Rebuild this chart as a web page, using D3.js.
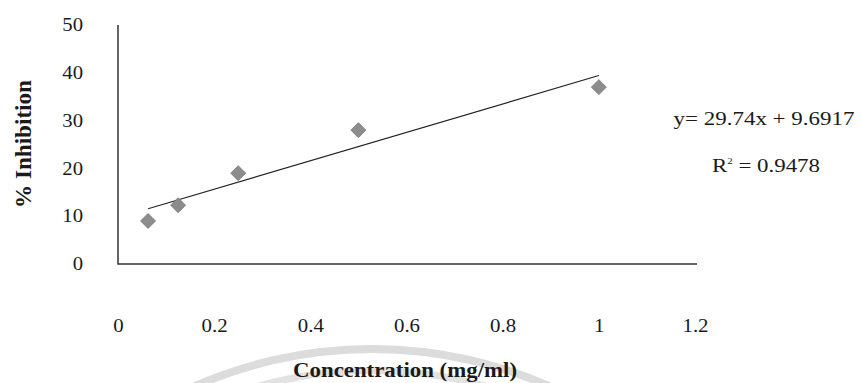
<!DOCTYPE html>
<html>
<head>
<meta charset="utf-8">
<script src="https://cdn.jsdelivr.net/npm/d3@7"></script>
<style>
  html, body { margin: 0; padding: 0; background: #fff; }
  text { font-family: "Liberation Serif", "Times New Roman", serif; fill: #1a1a1a; }
</style>
</head>
<body>
<script>
// DATA
const concentration = [0.0625, 0.125, 0.25, 0.5, 1];
const inhibition = [9, 12.3, 19, 28, 37];
const xTicks = [0, 0.2, 0.4, 0.6, 0.8, 1, 1.2];
const yTicks = [0, 10, 20, 30, 40, 50];
const trendCoef = [29.74, 9.6917]; // slope, intercept
const equationLabel = 'y= 29.74x + 9.6917';
const rSquaredValue = '0.9478';

const width = 861;
const height = 383;

const svg = d3
  .select('body')
  .append('svg')
  .attr('width', width)
  .attr('height', height);

const x = d3.scaleLinear().domain([0, 1.2]).range([118, 695]);
const y = d3.scaleLinear().domain([0, 50]).range([264, 25]);

// faint watermark arcs behind the title
const arc = d3.arc();
svg
  .append('path')
  .attr('transform', 'translate(372, 790)')
  .attr('d', arc({ innerRadius: 437, outerRadius: 445, startAngle: -0.45, endAngle: 0.45 }))
  .attr('fill', '#dcdcdc');
svg
  .append('path')
  .attr('transform', 'translate(372, 790)')
  .attr('d', arc({ innerRadius: 416, outerRadius: 423, startAngle: -0.32, endAngle: 0.32 }))
  .attr('fill', '#e2e2e2');

// AXES
const xAxis = svg
  .append('g')
  .attr('transform', `translate(0, ${y(0)})`)
  .call(d3.axisBottom(x).tickValues(xTicks).tickSize(0).tickPadding(55).tickFormat(d3.format('')));
xAxis.select('.domain').remove();
xAxis
  .selectAll('text')
  .attr('font-size', 19)
  .attr('font-family', '"Liberation Serif", serif')
  .attr('fill', '#1a1a1a')
  .attr('transform', 'scale(1.1, 1)');

const yAxis = svg
  .append('g')
  .attr('transform', 'translate(83, 0)')
  .call(d3.axisLeft(y).tickValues(yTicks).tickSize(0).tickPadding(0));
yAxis.select('.domain').remove();
yAxis
  .selectAll('text')
  .attr('font-size', 18)
  .attr('font-family', '"Liberation Serif", serif')
  .attr('fill', '#1a1a1a')
  .attr('transform', 'scale(1.15, 1)');

// axis lines
svg
  .append('path')
  .attr('d', `M ${x(0)} ${y(50)} V ${y(0)} H ${x(1.2) + 2}`)
  .attr('fill', 'none')
  .attr('stroke', '#333')
  .attr('stroke-width', 1.5);

// TRENDLINE
const xExtent = d3.extent(concentration);
svg
  .append('line')
  .attr('x1', x(xExtent[0]))
  .attr('y1', y(trendCoef[0] * xExtent[0] + trendCoef[1]))
  .attr('x2', x(xExtent[1]))
  .attr('y2', y(trendCoef[0] * xExtent[1] + trendCoef[1]))
  .attr('stroke', '#222')
  .attr('stroke-width', 1.2);

// POINTS
const diamond = d3.symbol().type(d3.symbolSquare).size(112);
svg
  .selectAll('path.point')
  .data(concentration)
  .join('path')
  .attr('class', 'point')
  .attr('d', diamond)
  .attr('transform', (d, i) => `translate(${x(d)}, ${y(inhibition[i])}) rotate(45)`)
  .attr('fill', '#8c8c8c')
  .attr('stroke', '#7a7a7a')
  .attr('stroke-width', 0.8);

// EQUATION
svg
  .append('text')
  .attr('x', 764)
  .attr('y', 125)
  .attr('text-anchor', 'middle')
  .attr('font-size', 19)
  .attr('textLength', 181)
  .attr('lengthAdjust', 'spacingAndGlyphs')
  .text(equationLabel);

const r2 = svg
  .append('text')
  .attr('x', 766)
  .attr('y', 172)
  .attr('text-anchor', 'middle')
  .attr('font-size', 19)
  .attr('textLength', 108)
  .attr('lengthAdjust', 'spacingAndGlyphs');
r2.append('tspan').text('R');
r2.append('tspan').attr('font-size', 9).attr('dy', -8).text('2');
r2.append('tspan').attr('dy', 8).text(' = ' + rSquaredValue);

// TITLES
svg
  .append('text')
  .attr('x', 405)
  .attr('y', 377)
  .attr('text-anchor', 'middle')
  .attr('font-size', 21)
  .attr('font-weight', 'bold')
  .attr('textLength', 224)
  .attr('lengthAdjust', 'spacingAndGlyphs')
  .text('Concentration (mg/ml)');

svg
  .append('text')
  .attr('transform', 'translate(31, 144) rotate(-90)')
  .attr('text-anchor', 'middle')
  .attr('font-size', 23)
  .attr('font-weight', 'bold')
  .attr('textLength', 128)
  .attr('lengthAdjust', 'spacingAndGlyphs')
  .text('% Inhibition');
</script>
</body>
</html>
